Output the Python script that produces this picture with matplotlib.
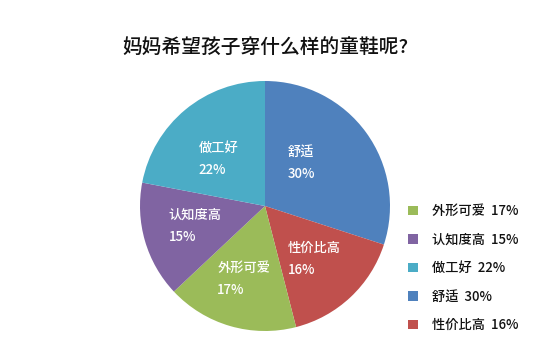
import matplotlib
matplotlib.use("Agg")
import matplotlib.pyplot as plt
from matplotlib.patches import Patch
import numpy as np

plt.rcParams['font.family'] = ['Noto Sans CJK JP', 'Noto Sans CJK SC', 'DejaVu Sans']

title = "妈妈希望孩子穿什么样的童鞋呢?"
categories = ["舒适", "性价比高", "外形可爱", "认知度高", "做工好"]
values = [30, 16, 17, 15, 22]
colors = ["#4F81BD", "#C0504D", "#9BBB59", "#8064A2", "#4BACC6"]
legend_order = ["外形可爱", "认知度高", "做工好", "舒适", "性价比高"]

W, H = 554, 361
fig = plt.figure(figsize=(W / 100, H / 100), dpi=100)
cx, cy, r = 265, 206, 125
ax = fig.add_axes([(cx - r) / W, (H - cy - r) / H, 2 * r / W, 2 * r / H])

wedges, _ = ax.pie(values, colors=colors, startangle=90, counterclock=False,
                   radius=1.0, wedgeprops=dict(linewidth=0))
ax.set_xlim(-1, 1)
ax.set_ylim(-1, 1)
ax.set_aspect('equal')

# label layout: radial distance and angular shift (degrees) from wedge middle
label_dist = [0.45, 0.58, 0.61, 0.58, 0.53]
label_shift = [14, 0, 0, 0, 5]
for w, cat, v, d, s in zip(wedges, categories, values, label_dist, label_shift):
    ang = np.deg2rad((w.theta1 + w.theta2) / 2 + s)
    ax.text(d * np.cos(ang), d * np.sin(ang), f"{cat}\n{v}%", color="white",
            fontsize=9.5, fontweight=500, ha="center", va="center",
            multialignment="left", linespacing=1.75)

fig.text(cx / W, 1 - 47 / H, title, ha="center", va="center", fontsize=14.2,
         fontweight=500, color="#111111")

handles = []
labels = []
for name in legend_order:
    i = categories.index(name)
    handles.append(Patch(facecolor=colors[i], edgecolor='none'))
    labels.append(f"{name}  {values[i]}%")
leg = fig.legend(handles, labels, loc="upper left", bbox_to_anchor=(408 / W, 1 - 204 / H),
                 frameon=False, fontsize=9.5, handlelength=0.75, handleheight=0.75,
                 handletextpad=1.1, labelspacing=1.1, borderaxespad=0, borderpad=0)
for t in leg.get_texts():
    t.set_fontweight(500)
    t.set_color("#111111")

fig.savefig("out.png", dpi=100)
